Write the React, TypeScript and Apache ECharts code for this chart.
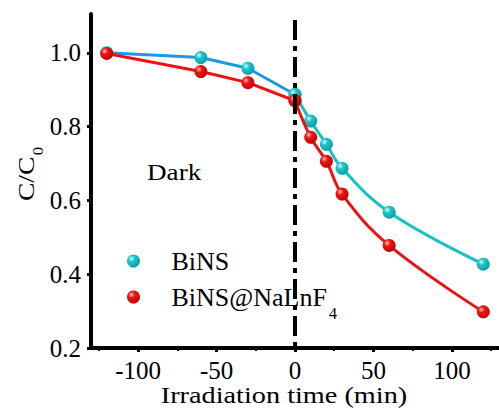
import React, { useEffect, useRef } from "react";
import * as echarts from "echarts";

// ---- data ----
const darkTime = [-120, -60, -30, 0];
const lightTime = [0, 10, 20, 30, 60, 120];
const binsDark = [1.0, 0.987, 0.958, 0.887];
const binsLight = [0.887, 0.815, 0.752, 0.687, 0.568, 0.427];
const naDark = [0.998, 0.949, 0.919, 0.87];
const naLight = [0.87, 0.771, 0.706, 0.617, 0.478, 0.298];

const xMajorTicks = [-100, -50, 0, 50, 100];
const xMinorTicks = [-125, -75, -25, 25, 75, 125];
const yMajorTicks = [0.2, 0.4, 0.6, 0.8, 1.0];
const yMinorTicks = [0.3, 0.5, 0.7, 0.9];

const X_MIN = -130;
const X_MAX = 130;
const Y_MIN = 0.2;
const Y_MAX = 1.105;
const LIGHT_ON = 0; // time at which irradiation starts

const seriesNames = ["BiNS", "BiNS@NaLnF4"];

const FONT = "Liberation Serif";

function zip(xs: number[], ys: number[]) {
  return xs.map((x, i) => [x, ys[i]]);
}

export default function App() {
  const ref = useRef<HTMLDivElement>(null);
  useEffect(() => {
    if (!ref.current) return;
    const chart = echarts.init(ref.current, undefined, { renderer: "svg" });

    const cyanBall = new echarts.graphic.RadialGradient(0.35, 0.32, 0.7, [
      { offset: 0, color: "#d9fbfb" },
      { offset: 0.35, color: "#1fc6ca" },
      { offset: 1, color: "#0b9ea3" },
    ]);
    const redBall = new echarts.graphic.RadialGradient(0.35, 0.32, 0.7, [
      { offset: 0, color: "#ffc4c4" },
      { offset: 0.35, color: "#f01414" },
      { offset: 1, color: "#c20000" },
    ]);

    const axisCommon = {
      type: "value" as const,
      splitLine: { show: false },
    };

    const option: any = {
      animation: false,
      backgroundColor: "#fff",
      grid: [
        { left: 91, top: 14, right: -5, bottom: 66, containLabel: false },
        { left: 91, top: 14, right: -5, bottom: 66, containLabel: false },
      ],
      xAxis: [
        {
          ...axisCommon,
          gridIndex: 0,
          min: X_MIN,
          max: X_MAX,
          axisLine: { show: true, onZero: false, lineStyle: { color: "#000", width: 4 } },
          axisTick: {
            show: true,
            customValues: xMajorTicks,
            length: 4,
            lineStyle: { color: "#000", width: 3 },
          },
          axisLabel: {
            customValues: xMajorTicks,
            fontFamily: FONT,
            fontSize: 25,
            color: "#000",
            margin: 10,
          },
        },
        {
          ...axisCommon,
          gridIndex: 1,
          min: X_MIN,
          max: X_MAX,
          axisLine: { show: false, onZero: false },
          axisTick: {
            show: true,
            customValues: xMinorTicks,
            length: 3,
            lineStyle: { color: "#000", width: 2 },
          },
          axisLabel: { show: false },
        },
      ],
      yAxis: [
        {
          ...axisCommon,
          gridIndex: 0,
          min: Y_MIN,
          max: Y_MAX,
          axisLine: { show: true, onZero: false, lineStyle: { color: "#000", width: 4 } },
          axisTick: {
            show: true,
            customValues: yMajorTicks,
            length: 4,
            lineStyle: { color: "#000", width: 3 },
          },
          axisLabel: {
            customValues: yMajorTicks,
            formatter: (v: number) => v.toFixed(1),
            fontFamily: FONT,
            fontSize: 25,
            color: "#000",
            margin: 10,
          },
        },
        {
          ...axisCommon,
          gridIndex: 1,
          min: Y_MIN,
          max: Y_MAX,
          axisLine: { show: false, onZero: false },
          axisTick: {
            show: true,
            customValues: yMinorTicks,
            length: 2,
            lineStyle: { color: "#000", width: 2 },
          },
          axisLabel: { show: false },
        },
      ],
      legend: [
        {
          data: [seriesNames[0]],
          left: 127,
          top: 248,
          padding: 0,
          orient: "vertical",
          icon: "circle",
          itemWidth: 66,
          itemHeight: 13,
          selectedMode: false,
          formatter: () => "{a|BiNS}",
          textStyle: {
            fontFamily: FONT,
            fontSize: 26,
            color: "#000",
            rich: {
              a: { fontFamily: FONT, fontSize: 26, color: "#000", lineHeight: 30 },
            },
          },
        },
        {
          data: [seriesNames[1]],
          left: 127,
          top: 284,
          padding: 0,
          orient: "vertical",
          icon: "circle",
          itemWidth: 66,
          itemHeight: 13,
          selectedMode: false,
          formatter: () => "{a|BiNS@NaLnF}{s|4}",
          textStyle: {
            fontFamily: FONT,
            fontSize: 26,
            color: "#000",
            rich: {
              a: { fontFamily: FONT, fontSize: 26, color: "#000", lineHeight: 30 },
              s: {
                fontFamily: FONT,
                fontSize: 16,
                color: "#000",
                verticalAlign: "top",
                padding: [33, 0, 0, 2],
              },
            },
          },
        },
      ],
      graphic: [
        {
          type: "text",
          x: 147,
          y: 172,
          scaleX: 1.18,
          style: {
            text: "Dark",
            font: `23px ${FONT}`,
            fill: "#000",
            align: "left",
            verticalAlign: "middle",
          },
        },
        {
          type: "text",
          x: 284,
          y: 395,
          scaleX: 1.23,
          style: {
            text: "Irradiation time (min)",
            font: `23px ${FONT}`,
            fill: "#000",
            align: "center",
            verticalAlign: "middle",
          },
        },
        {
          type: "text",
          x: 26,
          y: 174,
          rotation: Math.PI / 2,
          scaleX: 1.2,
          style: {
            text: "{a|C/C}{s|0}",
            fill: "#000",
            align: "center",
            verticalAlign: "middle",
            rich: {
              a: { fontFamily: FONT, fontSize: 23, fill: "#000", lineHeight: 28 },
              s: {
                fontFamily: FONT,
                fontSize: 14,
                fill: "#000",
                verticalAlign: "top",
                padding: [24, 0, 0, 1],
              },
            },
          },
        },
      ],
      series: [
        {
          name: seriesNames[0],
          type: "line",
          data: zip(darkTime, binsDark),
          symbol: "circle",
          symbolSize: 13,
          itemStyle: { color: cyanBall, borderWidth: 0 },
          lineStyle: { color: "#1d98e4", width: 3 },
          emphasis: { disabled: true },
          silent: true,
          z: 2,
        },
        {
          name: seriesNames[0],
          type: "line",
          data: zip(lightTime, binsLight),
          smooth: 0.4,
          symbol: "circle",
          symbolSize: 13,
          itemStyle: { color: cyanBall, borderWidth: 0 },
          lineStyle: { color: "#18c1c5", width: 3 },
          emphasis: { disabled: true },
          silent: true,
          z: 2,
        },
        {
          name: seriesNames[1],
          type: "line",
          data: zip(darkTime, naDark),
          symbol: "circle",
          symbolSize: 13,
          itemStyle: { color: redBall, borderWidth: 0 },
          lineStyle: { color: "#ec1212", width: 3 },
          emphasis: { disabled: true },
          silent: true,
          z: 3,
        },
        {
          name: seriesNames[1],
          type: "line",
          data: zip(lightTime, naLight),
          smooth: 0.4,
          symbol: "circle",
          symbolSize: 13,
          itemStyle: { color: redBall, borderWidth: 0 },
          lineStyle: { color: "#ec1212", width: 3 },
          emphasis: { disabled: true },
          silent: true,
          z: 3,
        },
        {
          name: "divider",
          type: "line",
          data: [
            [LIGHT_ON, Y_MAX],
            [LIGHT_ON, Y_MIN],
          ],
          showSymbol: false,
          symbol: "none",
          z: 10,
          silent: true,
          lineStyle: { color: "#000", width: 4, type: [20, 6, 5, 6], dashOffset: -6 },
        },
      ],
    };

    chart.setOption(option);
    return () => chart.dispose();
  }, []);

  return (
    <div
      ref={ref}
      style={{ position: "absolute", left: 0, top: 0, width: 499, height: 414 }}
    />
  );
}
